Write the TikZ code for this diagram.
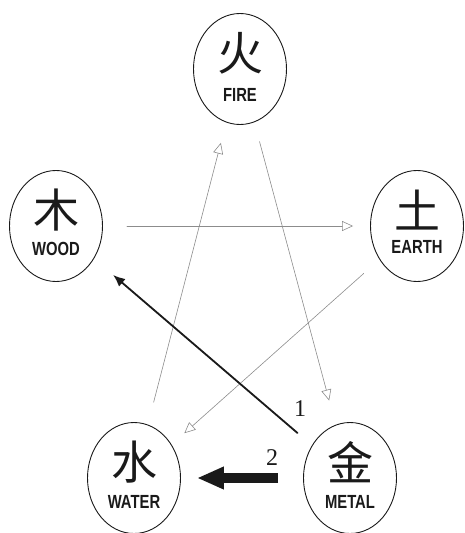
\documentclass[tikz,border=0pt]{standalone}
\usepackage{fontspec}
\setmainfont{Liberation Serif}
\newfontfamily\cjk{Noto Sans CJK SC}
\newfontfamily\namefont[FakeStretch=0.78]{Liberation Sans}
\usetikzlibrary{arrows.meta,shapes.geometric}
\definecolor{ink}{HTML}{1A1A1A}
\definecolor{wire}{HTML}{8C8C8C}

\begin{document}
\begin{tikzpicture}[x=1pt,y=-1pt,>=Latex,line cap=round,line join=round,
    elem/.style={ellipse,draw=ink,line width=.9pt,inner sep=0pt,
                 minimum width=93pt,minimum height=111pt},
    glyph/.style={font={\cjk\fontsize{46}{46}\selectfont},text=ink},
    elname/.style={font={\namefont\bfseries\fontsize{19}{19}\selectfont},text=ink},
    cycle/.style={draw=wire,line width=.6pt,-{Triangle[open,length=11pt,width=10pt]}},
    numlab/.style={font={\fontsize{24}{24}\selectfont},text=ink}]
  \useasboundingbox (0,0) rectangle (465,533);

  % The five elements.
  \node[elem] (fire)  at (240,69)  {};
  \node[elem] (wood)  at (56,226)  {};
  \node[elem] (earth) at (417,226) {};
  \node[elem] (water) at (134,478) {};
  \node[elem] (metal) at (350,478) {};

  \node[glyph] (fireG)  at ([yshift=16pt]fire.center)  {火};
  \node[glyph] (woodG)  at ([yshift=16pt]wood.center)  {木};
  \node[glyph] (earthG) at ([yshift=16pt]earth.center) {土};
  \node[glyph] (waterG) at ([yshift=16pt]water.center) {水};
  \node[glyph] (metalG) at ([yshift=16pt]metal.center) {金};

  \node[elname] (fireN)  at ([yshift=-26pt]fire.center)  {FIRE};
  \node[elname] (woodN)  at ([yshift=-23pt]wood.center)  {WOOD};
  \node[elname] (earthN) at ([yshift=-21pt]earth.center) {EARTH};
  \node[elname] (waterN) at ([yshift=-24pt]water.center) {WATER};
  \node[elname] (metalN) at ([yshift=-24pt]metal.center) {METAL};

  % Generating cycle.
  \draw[cycle,shorten <=24pt,shorten >=17pt] (wood) -- (earth);
  \draw[cycle,shorten <=23pt,shorten >=21pt] (water) -- (fire);
  \draw[cycle,shorten <=20pt,shorten >=25pt] (fire) -- (metal);
  \draw[cycle,shorten <=21pt,shorten >=17pt] (earth) -- (water);

  % Metal acting on wood and water.
  \draw[ink,line width=1.8pt,-{Latex[length=12pt,width=10pt]},
        shorten <=19pt,shorten >=25pt] (metal) -- (wood);
  \node[numlab] (one) at (300,409) {1};
  \draw[ink,line width=10pt,line cap=butt,-{Triangle[length=27pt,width=21pt]},
        shorten <=25pt,shorten >=16pt] (metal) -- (water);
  \node[numlab] (two) at (272,458) {2};
\end{tikzpicture}
\end{document}
